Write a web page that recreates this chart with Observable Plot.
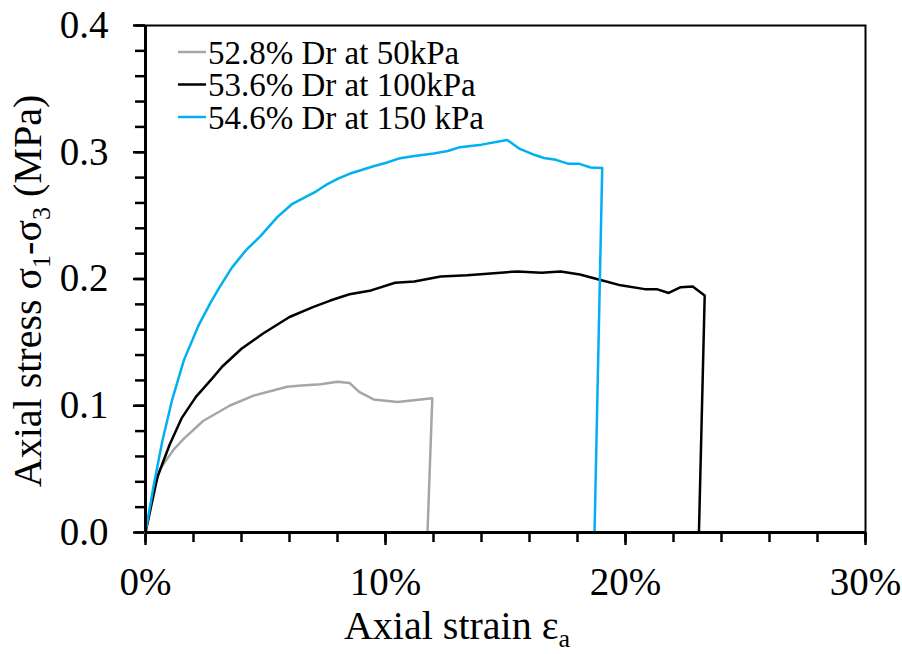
<!DOCTYPE html>
<html>
<head>
<meta charset="utf-8">
<script src="https://cdn.jsdelivr.net/npm/d3@7"></script>
<script src="https://cdn.jsdelivr.net/npm/@observablehq/plot@0.6"></script>
<style>
  html, body { margin: 0; padding: 0; background: #fff; }
  #chart { width: 902px; height: 654px; }
</style>
</head>
<body>
<div id="chart"></div>
<script>
// Series names and colours
const seriesNames = ["52.8% Dr at 50kPa", "53.6% Dr at 100kPa", "54.6% Dr at 150 kPa"];
const seriesColors = ["#A6A6A6", "#000000", "#00B0F0"];

// Axial strain (%) / deviator stress (MPa)
const strain50 = [0, 0.3, 0.6, 1.2, 1.6, 2.4, 3.5, 4.5, 5.9, 6.5, 7.3, 8.0, 8.5, 8.9, 9.5, 10.5, 11.95, 11.75];
const stress50 = [0, 0.03, 0.05, 0.066, 0.074, 0.088, 0.1, 0.108, 0.115, 0.116, 0.117, 0.119, 0.118, 0.111, 0.105, 0.103, 0.106, 0];

const strain100 = [0, 0.5, 1.0, 1.5, 2.1, 2.8, 3.2, 4.0, 4.9, 6.0, 7.0, 7.7, 8.5, 9.4, 10.4, 11.2, 12.3, 13.4, 14.8, 15.5, 16.5, 17.3, 18.1, 19.0, 19.8, 20.8, 21.3, 21.8, 22.3, 22.8, 23.3, 23.06];
const stress100 = [0, 0.044, 0.069, 0.09, 0.107, 0.122, 0.131, 0.145, 0.157, 0.17, 0.178, 0.183, 0.188, 0.191, 0.197, 0.198, 0.202, 0.203, 0.205, 0.206, 0.205, 0.206, 0.2035, 0.199, 0.195, 0.192, 0.192, 0.189, 0.1935, 0.194, 0.187, 0];

const strain150 = [0, 0.35, 0.7, 1.1, 1.6, 2.2, 2.7, 3.1, 3.6, 4.2, 4.8, 5.5, 6.1, 6.5, 7.1, 7.5, 8.0, 8.5, 9.5, 10.0, 10.55, 11.2, 12.0, 12.6, 13.1, 14.0, 15.07, 15.6, 16.2, 16.6, 17.1, 17.6, 18.05, 18.54, 19.03, 18.71];
const stress150 = [0, 0.038, 0.072, 0.104, 0.136, 0.163, 0.181, 0.194, 0.209, 0.223, 0.234, 0.249, 0.259, 0.263, 0.269, 0.274, 0.279, 0.283, 0.289, 0.2915, 0.295, 0.297, 0.299, 0.301, 0.304, 0.306, 0.3097, 0.3026, 0.298, 0.2955, 0.294, 0.291, 0.291, 0.288, 0.2875, 0];

// Tick values
const xMajorTicks = [0, 10, 20, 30];
const xMinorTicks = d3.range(0, 31, 2);
const yMajorTicks = [0, 0.1, 0.2, 0.3, 0.4];
const yMinorTicks = d3.range(0, 21).map(i => i / 50);

const strains = [strain50, strain100, strain150];
const stresses = [stress50, stress100, stress150];
const rows = seriesNames.flatMap((name, s) =>
  strains[s].map((x, i) => ({series: name, strain: x, stress: stresses[s][i]})));

const serif = "'Liberation Serif', 'Times New Roman', serif";

const chart = Plot.plot({
  width: 902,
  height: 654,
  marginLeft: 145,
  marginRight: 37,
  marginTop: 25,
  marginBottom: 122,
  style: {fontFamily: serif, fontSize: "39px", color: "#000", background: "#fff", overflow: "visible"},
  x: {domain: [0, 30], label: null},
  y: {domain: [0, 0.4], label: null},
  color: {domain: seriesNames, range: seriesColors},
  marks: [
    Plot.frame({stroke: "#000", strokeWidth: 2}),
    Plot.axisX(xMinorTicks, {tickSize: 10, strokeWidth: 2.5, tickFormat: () => "", label: null}),
    Plot.axisX(xMajorTicks, {tickSize: 13, tickPadding: 22, strokeWidth: 2.5, tickFormat: d => d + "%", fontSize: 39, label: null}),
    Plot.axisY(yMinorTicks, {tickSize: 10, strokeWidth: 2.5, tickFormat: () => "", label: null}),
    Plot.axisY(yMajorTicks, {tickSize: 12, tickPadding: 25, strokeWidth: 2.5, tickFormat: d => d.toFixed(1), fontSize: 39, label: null}),
    Plot.line(rows, {x: "strain", y: "stress", z: "series", stroke: "series", strokeWidth: 2.5, strokeLinejoin: "round"}),
    Plot.ruleX([0], {stroke: "#000", strokeWidth: 3}),
    Plot.ruleY([0], {stroke: "#000", strokeWidth: 3})
  ]
});

document.getElementById("chart").appendChild(chart);

// Titles and legend as real SVG text
const svg = d3.select(chart);

const xt = svg.append("text")
  .attr("x", 457).attr("y", 639)
  .attr("text-anchor", "middle")
  .attr("font-family", serif).attr("font-size", 40).attr("fill", "#000");
xt.append("tspan").text("Axial strain ε");
xt.append("tspan").attr("font-size", 26).attr("dy", 8).text("a");

const yt = svg.append("text")
  .attr("transform", "translate(41,291) rotate(-90)")
  .attr("text-anchor", "middle")
  .attr("font-family", serif).attr("font-size", 40).attr("fill", "#000");
yt.append("tspan").text("Axial stress σ");
yt.append("tspan").attr("font-size", 26).attr("dy", 9).text("1");
yt.append("tspan").attr("dy", -9).text("-σ");
yt.append("tspan").attr("font-size", 26).attr("dy", 9).text("3");
yt.append("tspan").attr("dy", -9).text(" (MPa)");

const lg = svg.append("g");
seriesNames.forEach((name, i) => {
  const cy = 52 + i * 32.5;
  lg.append("line")
    .attr("x1", 178).attr("x2", 206).attr("y1", cy).attr("y2", cy)
    .attr("stroke", seriesColors[i]).attr("stroke-width", 2.5);
  lg.append("text")
    .attr("x", 208).attr("y", cy + 11.5)
    .attr("text-anchor", "start")
    .attr("font-family", serif).attr("font-size", 33).attr("fill", "#000")
    .text(name);
});
</script>
</body>
</html>
